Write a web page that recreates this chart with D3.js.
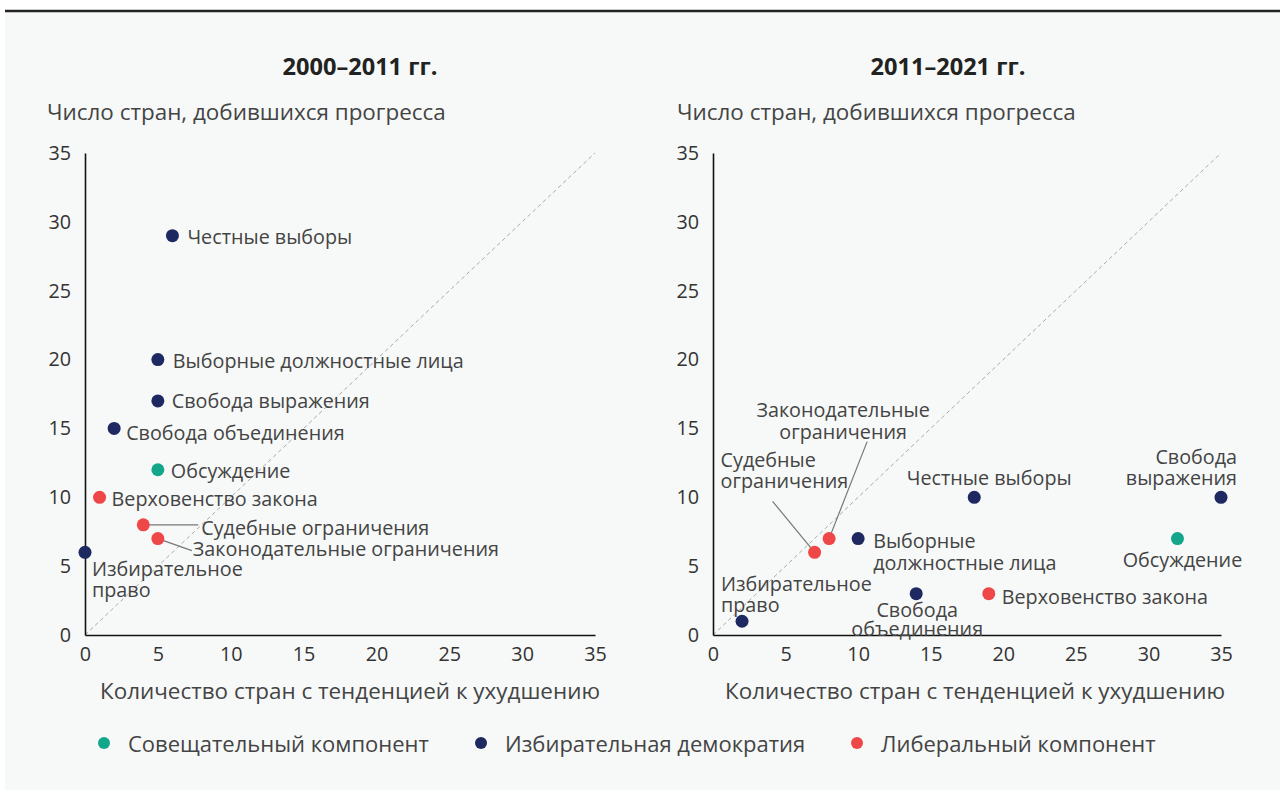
<!DOCTYPE html>
<html><head><meta charset="utf-8">
<script src="https://cdn.jsdelivr.net/npm/d3@7"></script>
<style>
html,body{margin:0;padding:0;background:#fff;}
text{font-family:"Open Sans",Lato,sans-serif;fill:#333;}
</style></head>
<body><svg id="c" width="1280" height="790"></svg>
<script>
// ---- data ----
const categories = ["Честные выборы","Выборные должностные лица","Свобода выражения","Свобода объединения","Обсуждение","Верховенство закона","Судебные ограничения","Законодательные ограничения","Избирательное право"];
const groups = ["electoral","electoral","electoral","electoral","deliberative","liberal","liberal","liberal","electoral"];
const x2000 = [6,5,5,2,5,1,4,5,0];
const y2000 = [29,20,17,15,12,10,8,7,6];
const x2011 = [18,10,35,14,32,19,7,8,2];
const y2011 = [10,7,10,3,7,3,6,7,1];
const ticks = [0,5,10,15,20,25,30,35];
const panelTitles = ["2000–2011 гг.","2011–2021 гг."];
const yTitle = "Число стран, добившихся прогресса";
const xTitle = "Количество стран с тенденцией к ухудшению";
const legendKeys = ["deliberative","electoral","liberal"];
const legendNames = ["Совещательный компонент","Избирательная демократия","Либеральный компонент"];

// ---- styles / layout ----
const colors = {deliberative:"#13a68a", electoral:"#1d2960", liberal:"#ef4747"};
const svg = d3.select("#c");

// font size fitted to reference text widths
function fit(str, target, weight) {
  const t = svg.append("text").style("font-size","100px").style("font-weight",weight||400).text(str);
  const w = t.node().getComputedTextLength(); t.remove();
  return 100*target/w;
}
const fsAxisTitle = fit(yTitle, 399);
const fsLabel = fit("Выборные должностные лица", 291);
const fsLegend = fit(legendNames[0], 301);
const fsTitle = fit(panelTitles[0], 155, 700);
const fsTick = fsLabel;

const labels2000 = {
  "Честные выборы": {lines:["Честные выборы"], dx:15, dy:1, a:"start"},
  "Выборные должностные лица": {lines:["Выборные должностные лица"], dx:15, dy:1, a:"start"},
  "Свобода выражения": {lines:["Свобода выражения"], dx:14, dy:0, a:"start"},
  "Свобода объединения": {lines:["Свобода объединения"], dx:12, dy:4, a:"start"},
  "Обсуждение": {lines:["Обсуждение"], dx:13, dy:1, a:"start"},
  "Верховенство закона": {lines:["Верховенство закона"], dx:12, dy:1, a:"start"},
  "Судебные ограничения": {lines:["Судебные ограничения"], dx:58, dy:3, a:"start", leader:[55,0]},
  "Законодательные ограничения": {lines:["Законодательные ограничения"], dx:35, dy:10, a:"start", leader:[34,12]},
  "Избирательное право": {lines:["Избирательное","право"], dx:7, dy:16, a:"start"}
};
const labels2011 = {
  "Честные выборы": {lines:["Честные выборы"], dx:15, dy:-20, a:"middle"},
  "Выборные должностные лица": {lines:["Выборные","должностные лица"], dx:15, dy:2, a:"start"},
  "Свобода выражения": {lines:["Свобода","выражения"], dx:16, dy:-41, a:"end"},
  "Свобода объединения": {lines:["Свобода","объединения"], dx:1, dy:16, a:"middle", lh:19},
  "Обсуждение": {lines:["Обсуждение"], dx:5, dy:21, a:"middle"},
  "Верховенство закона": {lines:["Верховенство закона"], dx:13, dy:3, a:"start"},
  "Судебные ограничения": {lines:["Судебные","ограничения"], dx:-94, dy:-93, a:"start", leader:[-42,-51]},
  "Законодательные ограничения": {lines:["Законодательные","ограничения"], dx:14, dy:-129, a:"middle", leader:[38,-97]},
  "Избирательное право": {lines:["Избирательное","право"], dx:-21, dy:-38, a:"start"}
};

svg.append("rect").attr("x",5).attr("y",12).attr("width",1275).attr("height",778).attr("fill","#f7f9f8");
svg.append("line").attr("x1",5).attr("x2",1280).attr("y1",11).attr("y2",11).attr("stroke","#222").attr("stroke-width",2.5);

const panels = [
  {xs:x2000, ys:y2000, lab:labels2000, x0:85, x1:595, title:panelTitles[0], tx:360, yTx:47, xTx:350},
  {xs:x2011, ys:y2011, lab:labels2011, x0:713, x1:1221, title:panelTitles[1], tx:948, yTx:677, xTx:975}
];
const yTop = 153, yBot = 635;

panels.forEach(p => {
  const x = d3.scaleLinear().domain([0,35]).range([p.x0,p.x1]);
  const y = d3.scaleLinear().domain([0,35]).range([yBot,yTop]);
  const g = svg.append("g");

  g.append("text").attr("x",p.tx).attr("y",66).attr("text-anchor","middle").attr("dominant-baseline","central")
    .style("font-weight",700).style("font-size",fsTitle+"px").style("fill","#222").text(p.title);
  g.append("text").attr("x",p.yTx).attr("y",111).attr("dominant-baseline","central")
    .style("font-size",fsAxisTitle+"px").style("fill","#444").text(yTitle);

  // diagonal
  g.append("line").attr("x1",x(0)).attr("y1",y(0)).attr("x2",x(35)).attr("y2",y(35))
    .attr("stroke","#aaa").attr("stroke-width",1).attr("stroke-dasharray","4,3");

  // axes
  const xa = g.append("g").attr("transform",`translate(0,${yBot})`)
    .call(d3.axisBottom(x).tickValues(ticks).tickSize(0).tickPadding(12));
  const ya = g.append("g").attr("transform",`translate(${p.x0},0)`)
    .call(d3.axisLeft(y).tickValues(ticks).tickSize(0).tickPadding(14));
  [xa,ya].forEach(a=>{
    a.select(".domain").attr("stroke","#111").attr("stroke-width",1.6);
    a.selectAll("text").style("font-size",fsTick+"px").style("font-family","'Open Sans'").attr("fill","#333");
  });
  g.append("text").attr("x",p.xTx).attr("y",690).attr("text-anchor","middle").attr("dominant-baseline","central")
    .style("font-size",fsAxisTitle+"px").style("fill","#444").text(xTitle);

  const data = categories.map((c,i)=>({name:c, g:groups[i], x:p.xs[i], y:p.ys[i]}));

  // leaders
  data.forEach(d=>{
    const L = p.lab[d.name];
    if (L.leader) {
      g.append("line").attr("x1",x(d.x)).attr("y1",y(d.y))
        .attr("x2",x(d.x)+L.leader[0]).attr("y2",y(d.y)+L.leader[1])
        .attr("stroke","#777").attr("stroke-width",1.2);
    }
  });

  g.selectAll("circle").data(data).join("circle")
    .attr("cx",d=>x(d.x)).attr("cy",d=>y(d.y)).attr("r",6.5)
    .attr("fill",d=>colors[d.g]);

  data.forEach(d=>{
    const L = p.lab[d.name];
    const lh = L.lh || 21.5;
    L.lines.forEach((ln,k)=>{
      g.append("text").attr("x",x(d.x)+L.dx).attr("y",y(d.y)+L.dy+k*lh)
        .attr("dominant-baseline","central").attr("text-anchor",L.a)
        .style("font-size",fsLabel+"px").style("fill","#444").text(ln);
    });
  });
});

// legend
const lx = [104,481,857];
legendKeys.forEach((k,i)=>{
  svg.append("circle").attr("cx",lx[i]).attr("cy",743).attr("r",6).attr("fill",colors[k]);
  svg.append("text").attr("x",lx[i]+24).attr("y",743).attr("dominant-baseline","central")
    .style("font-size",fsLegend+"px").style("fill","#444").text(legendNames[i]);
});
</script></body></html>
